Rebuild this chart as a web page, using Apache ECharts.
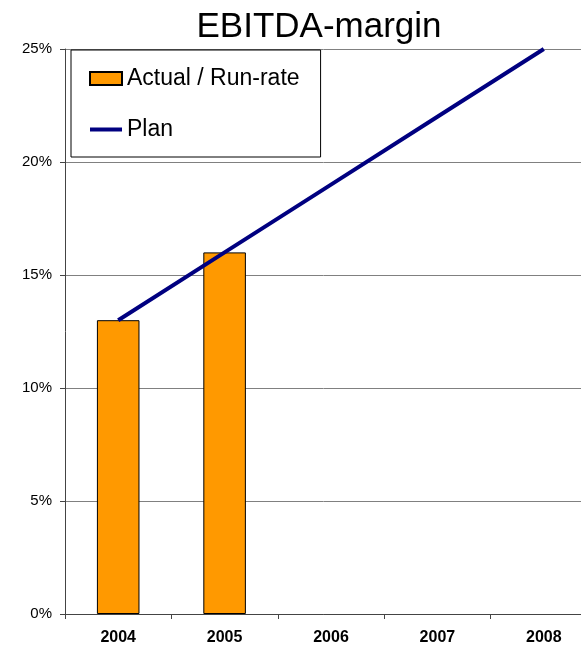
<!DOCTYPE html>
<html><head><meta charset="utf-8">
<script src="https://cdn.jsdelivr.net/npm/echarts@6/dist/echarts.min.js"></script>
<style>html,body{margin:0;padding:0;background:#fff}#c{width:581px;height:645px}</style>
</head><body><div id="c"></div>
<script>
var categories = ['2004','2005','2006','2007','2008'];
var actual = [13, 16, null, null, null];
var plan = [13, 16, 19, 22, 25];
var yTicks = [0, 5, 10, 15, 20, 25];

var chart = echarts.init(document.getElementById('c'));
chart.setOption({
  animation: false,
  title: {text: 'EBITDA-margin', left: 314, top: 5, textAlign: 'center',
    textStyle: {fontFamily: 'Liberation Sans, Arial', fontSize: 35, fontWeight: 'normal', color: '#000'}},
  legend: {
    left: 71, top: 50, orient: 'vertical', itemGap: 28,
    padding: [17, 21, 16, 18],
    backgroundColor: '#fff', borderColor: '#000', borderWidth: 1,
    itemWidth: 32, itemHeight: 13,
    textStyle: {fontFamily: 'Liberation Sans, Arial', fontSize: 23, color: '#000'},
    data: [{name: 'Actual / Run-rate', icon: 'rect'},
           {name: 'Plan', icon: 'path://M0,0 L32,0 L32,4 L0,4 Z'}]
  },
  grid: {left: 65, width: 532, top: 49, bottom: 31, containLabel: false, outerBoundsMode: 'none'},
  xAxis: {
    type: 'category', data: categories, boundaryGap: true,
    axisLine: {lineStyle: {color: '#444', width: 1}},
    axisTick: {show: true, inside: false, length: 5, alignWithLabel: false, lineStyle: {color: '#444'}},
    axisLabel: {fontFamily: 'Liberation Sans, Arial', fontSize: 16, fontWeight: 'bold', color: '#000', margin: 16}
  },
  yAxis: {
    type: 'value', min: 0, max: 25, interval: 5,
    axisLine: {show: true, lineStyle: {color: '#444', width: 1}},
    axisTick: {show: true, length: 5, lineStyle: {color: '#444'}},
    splitLine: {lineStyle: {color: '#808080', width: 1}},
    axisLabel: {fontFamily: 'Liberation Sans, Arial', fontSize: 15, color: '#000', margin: 13,
      formatter: function(v){return v + '%';}}
  },
  series: [
    {name: 'Actual / Run-rate', type: 'bar', data: actual, barWidth: '40%',
      itemStyle: {color: '#FF9900', borderColor: '#000', borderWidth: 1}},
    {name: 'Plan', type: 'line', data: plan, symbol: 'none',
      lineStyle: {color: '#000080', width: 4}, itemStyle: {color: '#000080'}, z: 3}
  ]
});
</script></body></html>
